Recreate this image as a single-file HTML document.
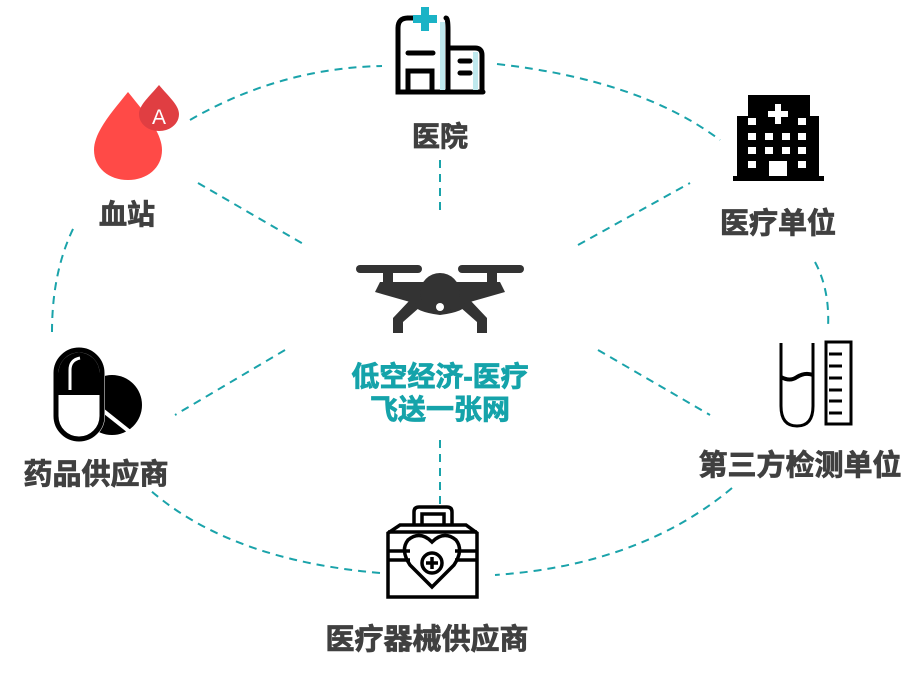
<!DOCTYPE html>
<html><head><meta charset="utf-8"><style>
html,body{margin:0;padding:0;background:#fff;}
svg{display:block}
text{font-family:"Liberation Sans","Noto Sans CJK SC",sans-serif;font-weight:bold;}
</style></head><body>
<svg width="920" height="674" viewBox="0 0 920 674" xmlns="http://www.w3.org/2000/svg">
<g fill="none" stroke="#1aa3aa" stroke-width="2" stroke-dasharray="8,6">
<path d="M190,120 Q280,68 382,66"/>
<path d="M497,64 Q640,80 720,140"/>
<path d="M815,262 Q830,290 828,328"/>
<path d="M732,488 Q640,565 495,575"/>
<path d="M380,573 Q230,560 150,490"/>
<path d="M52,332 Q52,270 75,225"/>
<path d="M198,183 L305,245"/>
<path d="M440,160 L440,215"/>
<path d="M578,245 L690,183"/>
<path d="M598,350 L710,415"/>
<path d="M440,440 L440,505"/>
<path d="M285,350 L175,415"/>
</g>
<!-- hospital -->
<g fill="none" stroke="#000" stroke-width="5" stroke-linecap="round">
<path d="M408,18 Q398,18 398,28 L398,92 L483,92"/>
<path d="M432,18 L408,18"/>
<path d="M446,18 Q448,18 448,30 L448,92"/>
<path d="M448,48 L475,48 Q482,48 482,55 L482,92"/>
<path d="M408,92 L408,71 L432,71 L432,92"/>
<path d="M408,53 L433,53"/>
<path d="M460,61 L470,61 M460,73 L470,73"/>
</g>
<rect x="440" y="22" width="5" height="68" fill="#bfe9ee"/>
<rect x="473" y="52" width="5" height="38" fill="#bfe9ee"/>
<path d="M421,7h8v8h8v8h-8v8h-8v-8h-8v-8h8z" fill="#1bb3c6"/>
<!-- blood -->
<path d="M128,92 C112,112 94,132 94,150 C94,168 109,180 128,180 C147,180 162,168 162,150 C162,132 144,112 128,92Z" fill="#ff4a47"/>
<path d="M159,85 C150,96 139,105 139,114 C139,124 148,131 159,131 C170,131 179,124 179,114 C179,105 168,96 159,85Z" fill="#e03e42"/>
<text x="159" y="124" font-size="21" fill="#fff" text-anchor="middle" style="font-weight:normal">A</text>
<!-- office building -->
<g fill="#000">
<rect x="748" y="95" width="62" height="24"/>
<rect x="737" y="116" width="82" height="62"/>
<rect x="733" y="176" width="91" height="5"/>
</g>
<g fill="#fff">
<path d="M775,104h6v7h7v6h-7v7h-6v-7h-7v-6h7z"/>
<rect x="748" y="118" width="8" height="7"/><rect x="798" y="118" width="8" height="7"/>
<rect x="748" y="133" width="8" height="7"/><rect x="765" y="133" width="8" height="7"/><rect x="782" y="133" width="8" height="7"/><rect x="798" y="133" width="8" height="7"/>
<rect x="748" y="147" width="8" height="7"/><rect x="765" y="147" width="8" height="7"/><rect x="782" y="147" width="8" height="7"/><rect x="798" y="147" width="8" height="7"/>
<rect x="748" y="161" width="8" height="7"/><rect x="769" y="161" width="18" height="15"/><rect x="798" y="161" width="8" height="7"/>
</g>
<!-- drone -->
<g fill="#333">
<rect x="356" y="265" width="66" height="8" rx="4"/>
<rect x="458" y="265" width="66" height="8" rx="4"/>
<rect x="383" y="271" width="10" height="14"/><rect x="487" y="271" width="10" height="14"/>
<path d="M380,282 L500,282 L505,292 L470,302 Q465,312 440,315 Q415,312 410,302 L375,292 Z"/>
<circle cx="440" cy="293" r="20"/>
<path d="M410,300 L393,318 L393,333 L403,333 L403,322 L420,307 Z"/>
<path d="M470,300 L487,318 L487,333 L477,333 L477,322 L460,307 Z"/>
</g>
<circle cx="440" cy="307" r="4" fill="#fff"/>
<!-- pill -->
<g>
<circle cx="112" cy="405" r="30" fill="#000"/>
<line x1="96" y1="405" x2="130" y2="432" stroke="#fff" stroke-width="4"/>
<rect x="56" y="350" width="46" height="89" rx="23" fill="#fff" stroke="#fff" stroke-width="6"/>
<rect x="56" y="350" width="46" height="89" rx="23" fill="none" stroke="#000" stroke-width="5"/>
<path d="M58.5,395 L58.5,373 A20.5,20.5 0 0 1 99.5,373 L99.5,395 Z" fill="#000"/>
<path d="M70,390 L70,370 Q70,360 80,358" stroke="#fff" stroke-width="3" fill="none"/>
</g>
<!-- tubes -->
<g fill="none" stroke="#000" stroke-width="3">
<path d="M781,343 L781,406 Q781,426 797,426 Q813,426 813,406 L813,343"/>
<path d="M781,377 Q790,382 797,377 Q805,372 813,375" stroke-width="4"/>
<rect x="826" y="342" width="25" height="82"/>
<path d="M829,354h13M829,366h13M829,378h13M829,390h13M829,401h13M829,413h13"/>
</g>
<!-- kit -->
<g fill="none" stroke="#000" stroke-width="3.5">
<path d="M414,525 L414,512 Q414,507 419,507 L447,507 Q452,507 452,512 L452,525"/>
<path d="M422,525 L422,514 L444,514 L444,525"/>
<path d="M400,525 L466,525 L477,533 L477,597 L388,597 L388,533 Z"/>
<path d="M388,532 L477,532"/>
<path d="M388,551 L410,551 M388,560 L410,560 M455,551 L477,551 M455,560 L477,560"/>
<path d="M432,587 L410,565 Q400,550 408,540 Q420,530 432,542 Q444,530 456,540 Q464,550 454,565 Z"/>
<circle cx="432" cy="563" r="10"/>
<path d="M432,557v12M426,563h12"/>
</g>
<!-- labels -->
<g fill="#404040" stroke="#404040" stroke-width="0.8" text-anchor="middle">
<text x="440" y="146" font-size="28">医院</text>
<text x="127" y="224" font-size="28">血站</text>
<text x="778" y="233" font-size="29">医疗单位</text>
<text x="800" y="475" font-size="29">第三方检测单位</text>
<text x="96" y="484" font-size="29">药品供应商</text>
<text x="427" y="649" font-size="29">医疗器械供应商</text>
</g>
<g fill="#15a3aa" stroke="#15a3aa" stroke-width="0.8" text-anchor="middle">
<text x="440" y="386" font-size="28">低空经济-医疗</text>
<text x="440" y="419" font-size="28">飞送一张网</text>
</g>
</svg>
</body></html>
